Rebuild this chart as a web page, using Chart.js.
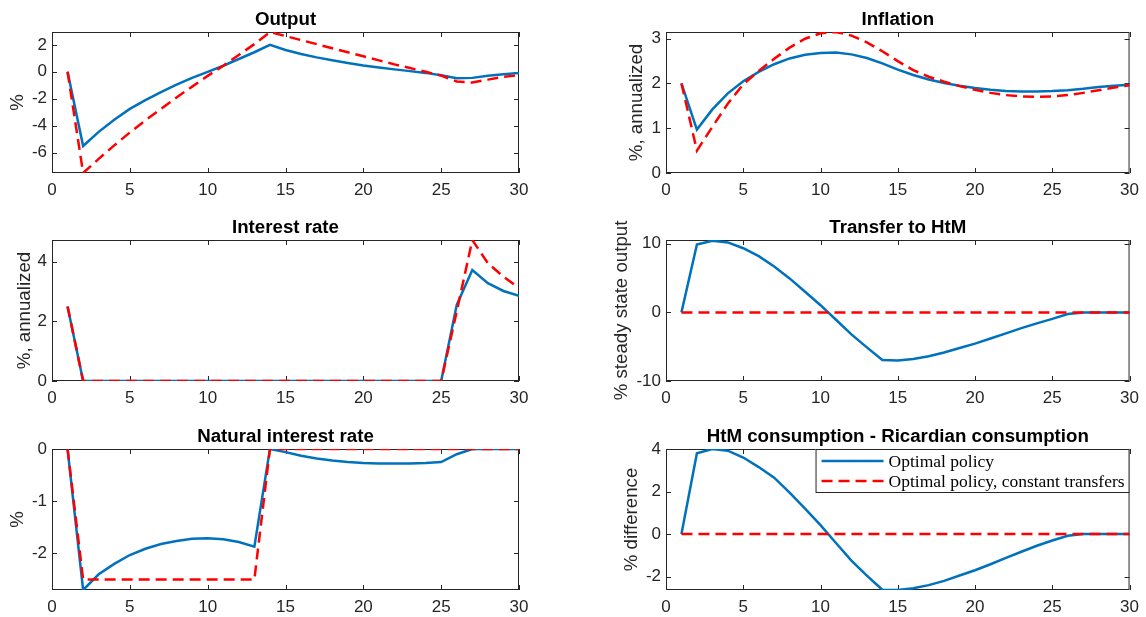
<!DOCTYPE html>
<html lang="en">
<head>
    <meta charset="UTF-8">
    <title>Optimal policy impulse responses</title>
    <script src="https://cdn.jsdelivr.net/npm/chart.js"></script>
    <style>
        body { margin: 0; background: #fff; }
        #fig { position: relative; width: 1146px; height: 617px; }
        #fig canvas { position: absolute; }
    </style>
</head>
<body>
<div id="fig">
    <canvas id="output" width="573" height="205" style="left:0;top:0"></canvas>
    <canvas id="inflation" width="573" height="205" style="left:573px;top:0"></canvas>
    <canvas id="interest" width="573" height="208" style="left:0;top:205px"></canvas>
    <canvas id="transfer" width="573" height="208" style="left:573px;top:205px"></canvas>
    <canvas id="natural" width="573" height="204" style="left:0;top:413px"></canvas>
    <canvas id="htm" width="573" height="204" style="left:573px;top:413px"></canvas>
</div>

<script>
    // horizon (quarters)
    const periods = [1, 2, 3, 4, 5, 6, 7, 8, 9, 10, 11, 12, 13, 14, 15,
                     16, 17, 18, 19, 20, 21, 22, 23, 24, 25, 26, 27, 28, 29, 30];
    const xTicks = [0, 5, 10, 15, 20, 25, 30];

    const seriesNames = ['Optimal policy', 'Optimal policy, constant transfers'];

    // Output
    const outputOpt = [0, -5.5, -4.45, -3.55, -2.75, -2.1, -1.5, -0.95, -0.45, 0, 0.45, 0.95, 1.45, 2.0, 1.62,
                       1.32, 1.07, 0.85, 0.65, 0.47, 0.32, 0.18, 0.05, -0.08, -0.25, -0.48, -0.45, -0.3, -0.18, -0.08];
    const outputConst = [0, -7.5, -6.45, -5.45, -4.5, -3.6, -2.75, -1.9, -1.1, -0.3, 0.45, 1.25, 2.05, 2.95, 2.65,
                         2.35, 2.05, 1.75, 1.45, 1.15, 0.85, 0.55, 0.28, 0.0, -0.28, -0.72, -0.8, -0.58, -0.38, -0.25];
    const outputTicks = [-6, -4, -2, 0, 2];

    // Inflation
    const inflationOpt = [2.0, 0.97, 1.42, 1.78, 2.05, 2.26, 2.43, 2.56, 2.64, 2.68, 2.69, 2.65, 2.57, 2.45, 2.31,
                          2.19, 2.09, 2.01, 1.95, 1.9, 1.86, 1.83, 1.82, 1.82, 1.83, 1.85, 1.88, 1.92, 1.95, 1.97];
    const inflationConst = [2.0, 0.5, 1.03, 1.55, 1.98, 2.28, 2.55, 2.8, 3.0, 3.12, 3.15, 3.07, 2.92, 2.72, 2.5,
                            2.3, 2.15, 2.04, 1.94, 1.86, 1.79, 1.74, 1.71, 1.7, 1.71, 1.74, 1.79, 1.85, 1.91, 1.96];
    const inflationTicks = [0, 1, 2, 3];

    // Interest rate
    const interestOpt = [2.5, 0, 0, 0, 0, 0, 0, 0, 0, 0, 0, 0, 0, 0, 0,
                         0, 0, 0, 0, 0, 0, 0, 0, 0, 0, 2.55, 3.72, 3.28, 3.02, 2.86];
    const interestConst = [2.5, 0, 0, 0, 0, 0, 0, 0, 0, 0, 0, 0, 0, 0, 0,
                           0, 0, 0, 0, 0, 0, 0, 0, 0, 0, 2.33, 4.73, 3.95, 3.5, 3.12];
    const interestTicks = [0, 2, 4];

    // Transfer to HtM
    const transferOpt = [0, 9.9, 10.45, 10.2, 9.35, 8.2, 6.7, 4.95, 3.0, 1.05, -1.07, -3.2, -5.1, -6.95, -7.0,
                         -6.8, -6.4, -5.85, -5.2, -4.55, -3.8, -3.05, -2.3, -1.6, -0.95, -0.25, 0, 0, 0, 0];
    const transferConst = [0, 0, 0, 0, 0, 0, 0, 0, 0, 0, 0, 0, 0, 0, 0,
                           0, 0, 0, 0, 0, 0, 0, 0, 0, 0, 0, 0, 0, 0, 0];
    const transferTicks = [-10, 0, 10];

    // Natural interest rate
    const naturalOpt = [0, -2.7, -2.4, -2.2, -2.03, -1.91, -1.82, -1.76, -1.72, -1.71, -1.73, -1.78, -1.87, 0, -0.06,
                        -0.13, -0.18, -0.22, -0.25, -0.27, -0.28, -0.28, -0.28, -0.27, -0.25, -0.1, 0, 0, 0, 0];
    const naturalConst = [0, -2.5, -2.5, -2.5, -2.5, -2.5, -2.5, -2.5, -2.5, -2.5, -2.5, -2.5, -2.5, 0, 0,
                          0, 0, 0, 0, 0, 0, 0, 0, 0, 0, 0, 0, 0, 0, 0];
    const naturalTicks = [-2, -1, 0];

    // HtM consumption - Ricardian consumption
    const htmOpt = [0, 3.8, 4.0, 3.92, 3.6, 3.15, 2.65, 1.95, 1.2, 0.42, -0.42, -1.25, -1.95, -2.62, -2.63,
                    -2.55, -2.4, -2.2, -1.95, -1.7, -1.42, -1.12, -0.83, -0.55, -0.3, -0.08, 0, 0, 0, 0];
    const htmConst = [0, 0, 0, 0, 0, 0, 0, 0, 0, 0, 0, 0, 0, 0, 0,
                      0, 0, 0, 0, 0, 0, 0, 0, 0, 0, 0, 0, 0, 0, 0];
    const htmTicks = [-2, 0, 2, 4];

    const BLUE = '#0072BD';
    const RED = '#FF0000';
    const INK = '#262626';
    const SANS = '"Liberation Sans", Arial, sans-serif';

    // matlab style box with inward ticks on all four sides
    const axesBox = {
        id: 'axesBox',
        beforeDatasetsDraw(chart) {
            const {ctx, chartArea: a, scales: {x, y}} = chart;
            const len = 5;
            ctx.save();
            ctx.strokeStyle = INK;
            ctx.lineWidth = 1;
            ctx.strokeRect(a.left + 0.5, a.top + 0.5, a.right - a.left - 1, a.bottom - a.top - 1);
            ctx.beginPath();
            x.ticks.forEach(t => {
                const px = Math.round(x.getPixelForValue(t.value)) + 0.5;
                ctx.moveTo(px, a.bottom); ctx.lineTo(px, a.bottom - len);
                ctx.moveTo(px, a.top); ctx.lineTo(px, a.top + len);
            });
            y.ticks.forEach(t => {
                const py = Math.round(y.getPixelForValue(t.value)) + 0.5;
                ctx.moveTo(a.left, py); ctx.lineTo(a.left + len, py);
                ctx.moveTo(a.right, py); ctx.lineTo(a.right - len, py);
            });
            ctx.stroke();
            ctx.restore();
        }
    };

    // bold title centred over the axes
    const panelTitle = {
        id: 'panelTitle',
        afterDraw(chart, args, opts) {
            const {ctx, chartArea: a} = chart;
            ctx.save();
            ctx.font = 'bold 18.7px ' + SANS;
            ctx.fillStyle = '#000';
            ctx.textAlign = 'center';
            ctx.textBaseline = 'alphabetic';
            ctx.fillText(opts.text, (a.left + a.right) / 2, a.top - 7);
            ctx.restore();
        }
    };

    // boxed legend in the top right corner of the last panel
    const cornerLegend = {
        id: 'cornerLegend',
        afterDatasetsDraw(chart) {
            const {ctx, chartArea: a} = chart;
            const w = 314, h = 44;
            const bx = a.right - w, by = a.top;
            ctx.save();
            ctx.fillStyle = '#fff';
            ctx.fillRect(bx, by, w, h);
            ctx.strokeStyle = INK;
            ctx.lineWidth = 1;
            ctx.strokeRect(bx + 0.5, by + 0.5, w - 1, h - 1);
            chart.data.datasets.forEach((ds, i) => {
                const ly = by + 12 + i * 20;
                ctx.beginPath();
                ctx.strokeStyle = ds.borderColor;
                ctx.lineWidth = ds.borderWidth;
                ctx.setLineDash(ds.borderDash || []);
                ctx.moveTo(bx + 6, ly);
                ctx.lineTo(bx + 68, ly);
                ctx.stroke();
                ctx.setLineDash([]);
                ctx.fillStyle = '#000';
                ctx.font = '17.5px "Liberation Serif", "Times New Roman", serif';
                ctx.textBaseline = 'middle';
                ctx.fillText(seriesNames[i], bx + 73, ly + 1);
            });
            ctx.restore();
        }
    };

    function points(values) {
        return periods.map((p, i) => ({x: p, y: values[i]}));
    }

    function makePanel(id, title, yLabel, labelPad, yMin, yMax, yTicks, opt, cons, box, extra) {
        return new Chart(document.getElementById(id), {
            type: 'line',
            data: {
                datasets: [
                    {label: seriesNames[0], data: points(opt), borderColor: BLUE, borderWidth: 2.5,
                     pointRadius: 0, tension: 0, order: 2},
                    {label: seriesNames[1], data: points(cons), borderColor: RED, borderWidth: 2.5,
                     borderDash: [11, 6], pointRadius: 0, tension: 0, order: 1}
                ]
            },
            options: {
                responsive: false,
                animation: false,
                layout: {padding: {top: box.top, right: box.right, left: 0, bottom: 0}},
                plugins: {
                    legend: {display: false},
                    tooltip: {enabled: false},
                    panelTitle: {text: title}
                },
                scales: {
                    x: {
                        type: 'linear', min: 0, max: 30,
                        grid: {display: false, drawTicks: false}, border: {display: false},
                        ticks: {color: INK, font: {family: SANS, size: 17}, padding: 7, maxRotation: 0},
                        afterBuildTicks: s => { s.ticks = xTicks.map(v => ({value: v})); },
                        afterFit: s => { s.height = box.axisH; }
                    },
                    y: {
                        min: yMin, max: yMax,
                        grid: {display: false, drawTicks: false}, border: {display: false},
                        ticks: {color: INK, font: {family: SANS, size: 17}, padding: 5},
                        afterBuildTicks: s => { s.ticks = yTicks.map(v => ({value: v})); },
                        afterFit: s => { s.width = box.yW; },
                        title: {display: true, text: yLabel, color: INK, padding: {top: labelPad, bottom: 0},
                                font: {family: SANS, size: 18.7}}
                    }
                }
            },
            plugins: [axesBox, panelTitle].concat(extra || [])
        });
    }

    const leftRow1 = {top: 32, axisH: 32, yW: 52, right: 54};
    const rightRow1 = {top: 32, axisH: 32, yW: 93, right: 15};
    const leftRow2 = {top: 35, axisH: 32, yW: 52, right: 54};
    const rightRow2 = {top: 35, axisH: 32, yW: 93, right: 15};
    const leftRow3 = {top: 36, axisH: 27, yW: 52, right: 54};
    const rightRow3 = {top: 36, axisH: 27, yW: 93, right: 15};

    makePanel('output', 'Output', '%', 6.5, -7.5, 2.95, outputTicks, outputOpt, outputConst, leftRow1);
    makePanel('inflation', 'Inflation', '%, annualized', 53, 0, 3.15, inflationTicks, inflationOpt, inflationConst, rightRow1);
    makePanel('interest', 'Interest rate', '%, annualized', 14, 0, 4.73, interestTicks, interestOpt, interestConst, leftRow2);
    makePanel('transfer', 'Transfer to HtM', '% steady state output', 38, -10, 10.55, transferTicks, transferOpt, transferConst, rightRow2);
    makePanel('natural', 'Natural interest rate', '%', 6.5, -2.7, 0, naturalTicks, naturalOpt, naturalConst, leftRow3);
    makePanel('htm', 'HtM consumption - Ricardian consumption', '% difference', 48, -2.63, 4.0, htmTicks, htmOpt, htmConst, rightRow3, [cornerLegend]);
</script>
</body>
</html>
